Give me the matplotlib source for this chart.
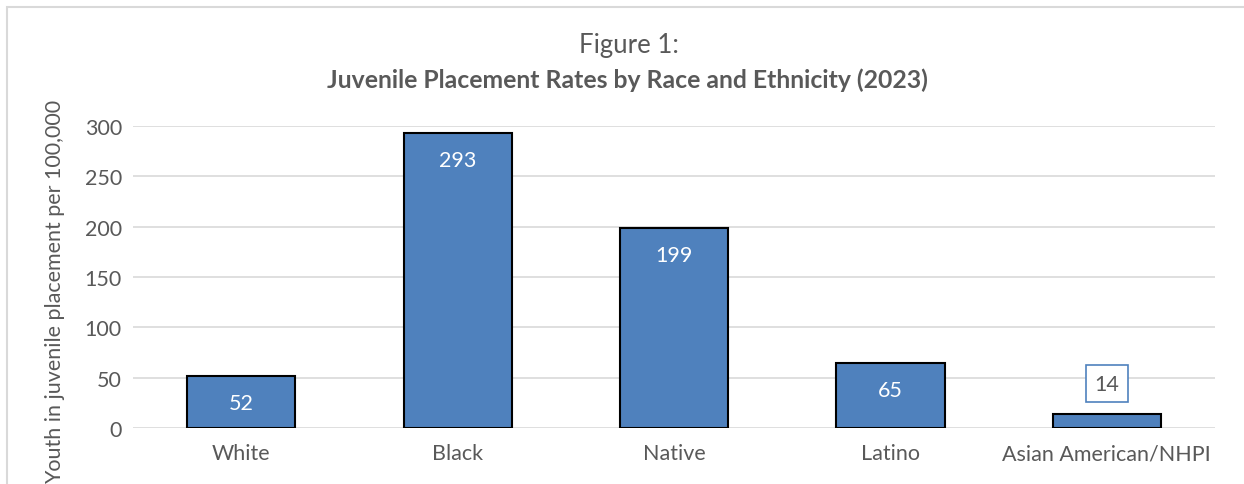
import matplotlib.pyplot as plt
from matplotlib.patches import Rectangle

groups = ["White", "Black", "Native", "Latino", "Asian American/NHPI"]
rates = [52, 293, 199, 65, 14]

plt.rcParams['font.family'] = ['Lato', 'DejaVu Sans']
GRAY = "#595959"
BLUE = "#4F81BD"
FS = 15.5

fig = plt.figure(figsize=(12.44, 4.85), dpi=100)
ax = fig.add_axes([133 / 1244, 1 - 429 / 485, 1082 / 1244, 302 / 485])

x = range(len(groups))
bars = ax.bar(x, rates, width=0.5, color=BLUE, edgecolor="black", linewidth=1.5, zorder=3)

for b, v in zip(bars, rates):
    cx = b.get_x() + b.get_width() / 2
    if v > 30:
        ax.text(cx, v - 27, str(v), ha="center", va="center", color="white", fontsize=FS, zorder=4)
    else:
        ax.text(cx, v + 30, str(v), ha="center", va="center", color=GRAY, fontsize=FS, zorder=4,
                bbox=dict(boxstyle="square,pad=0.4", fc="white", ec=BLUE, lw=1.2))

ax.set_xlim(-0.5, len(groups) - 0.5)
ax.set_ylim(0, 300)
ax.set_yticks(range(0, 301, 50))
ax.set_xticks(list(x))
ax.set_xticklabels(groups)
ax.yaxis.grid(True, color="#D9D9D9", linewidth=1.2, zorder=0)
for s in ax.spines.values():
    s.set_visible(False)
ax.tick_params(axis="both", length=0, labelsize=FS, colors=GRAY, pad=8)
ax.tick_params(axis="x", pad=11)

fig.text(55 / 1244, 1 - 292 / 485, "Youth in juvenile placement per 100,000", rotation=90,
         ha="center", va="center", fontsize=FS, color=GRAY)
fig.text(629 / 1244, 1 - 45 / 485, "Figure 1:", ha="center", va="center", fontsize=18.5, color=GRAY)
fig.text(627 / 1244, 1 - 80 / 485, "Juvenile Placement Rates by Race and Ethnicity (2023)",
         ha="center", va="center", fontsize=17.8, color=GRAY, fontweight="bold")

fig.patches.append(Rectangle((7 / 1244, -0.1), 1.2, 1 - 8 / 485 + 0.1, transform=fig.transFigure,
                             fill=False, ec="#D9D9D9", lw=1.5))

fig.savefig("out.png", dpi=100)
